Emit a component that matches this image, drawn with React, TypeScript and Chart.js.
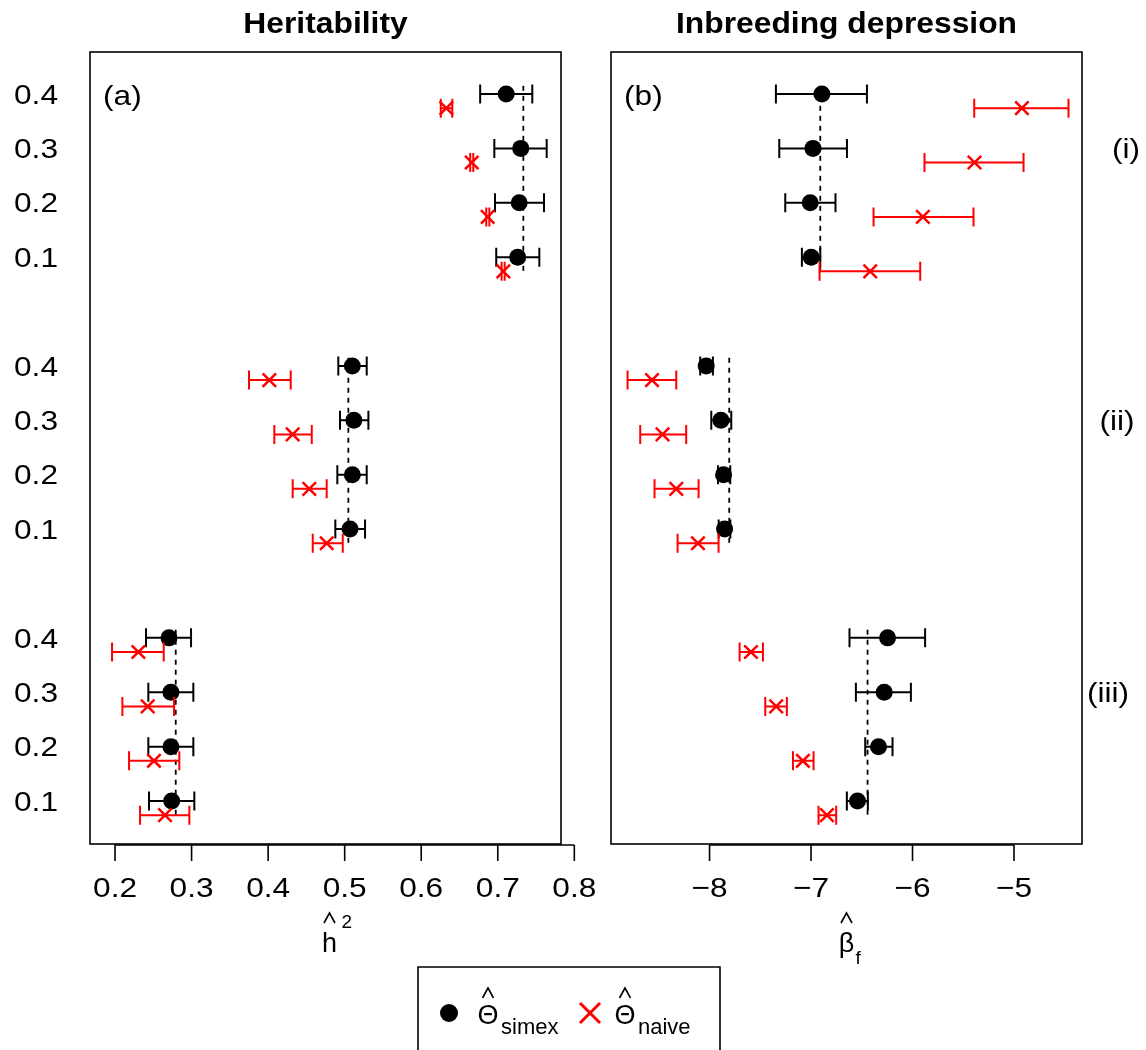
import React, { useEffect, useRef } from "react";
import { Chart, registerables } from "chart.js";
Chart.register(...registerables);

// ---------- data ----------
const levelLabels = ["0.4", "0.3", "0.2", "0.1"];
const groupLabels = ["(i)", "(ii)", "(iii)"];

// Heritability (panel a)
const h2SimexMean = [0.711, 0.730, 0.728, 0.726, 0.510, 0.512, 0.510, 0.507, 0.2705, 0.273, 0.273, 0.274];
const h2SimexLo = [0.677, 0.6955, 0.6964, 0.698, 0.4917, 0.4939, 0.4904, 0.4878, 0.2405, 0.2435, 0.2435, 0.2444];
const h2SimexHi = [0.7451, 0.7639, 0.7604, 0.7543, 0.5288, 0.531, 0.5288, 0.5266, 0.2993, 0.3023, 0.3023, 0.3036];
const h2NaiveMean = [0.6328, 0.666, 0.6868, 0.7073, 0.4016, 0.4321, 0.4538, 0.4765, 0.2305, 0.2427, 0.2509, 0.2653];
const h2NaiveLo = [0.6255, 0.664, 0.685, 0.705, 0.375, 0.4081, 0.4321, 0.4583, 0.1961, 0.2096, 0.2183, 0.2327];
const h2NaiveHi = [0.6406, 0.668, 0.689, 0.709, 0.4295, 0.457, 0.4765, 0.4975, 0.2636, 0.2771, 0.284, 0.2971];
const h2True = [0.7334, 0.5048, 0.2793];
const h2Ticks = [0.2, 0.3, 0.4, 0.5, 0.6, 0.7, 0.8];

// Inbreeding depression (panel b)
const bfSimexMean = [-6.893, -6.981, -7.008, -6.998, -8.033, -7.888, -7.862, -7.852, -6.246, -6.279, -6.335, -6.542];
const bfSimexLo = [-7.346, -7.313, -7.254, -7.09, -8.092, -7.983, -7.917, -7.91, -6.621, -6.558, -6.466, -6.647];
const bfSimexHi = [-6.449, -6.646, -6.759, -6.909, -7.967, -7.786, -7.796, -7.795, -5.876, -6.016, -6.197, -6.44];
const bfNaiveMean = [-4.922, -5.389, -5.898, -6.417, -8.567, -8.463, -8.328, -8.114, -7.592, -7.343, -7.08, -6.843];
const bfNaiveLo = [-5.392, -5.882, -6.384, -6.916, -8.808, -8.683, -8.542, -8.315, -7.704, -7.451, -7.178, -6.926];
const bfNaiveHi = [-4.463, -4.906, -5.399, -5.924, -8.328, -8.23, -8.108, -7.911, -7.474, -7.238, -6.975, -6.752];
const bfTrue = [-6.909, -7.806, -6.443];
const bfTicks = [-8, -7, -6, -5];

// ---------- helpers ----------
const FONT = '"Liberation Sans", Arial, Helvetica, sans-serif';
const font = (size: number, bold = false) => `${bold ? "bold " : ""}${size}px ${FONT}`;
const W = 1146;
const H = 1050;
const NAIVE_OFFSET = 0.26;
const SX = 1.13; // horizontal stretch of regular text
const rowPos = (i: number) => Math.floor(i / 4) * 5 + (i % 4);

function textS(ctx: CanvasRenderingContext2D, s: string, x: number, y: number, sx = SX) {
  ctx.save();
  ctx.translate(x, y);
  ctx.scale(sx, 1);
  ctx.fillText(s, 0, 0);
  ctx.restore();
}

function hat(ctx: CanvasRenderingContext2D, cx: number, top: number, half = 5.5, h = 10) {
  ctx.save();
  ctx.strokeStyle = "#000";
  ctx.lineWidth = 1.6;
  ctx.beginPath();
  ctx.moveTo(cx - half, top + h);
  ctx.lineTo(cx, top);
  ctx.lineTo(cx + half, top + h);
  ctx.stroke();
  ctx.restore();
}

type PanelCfg = {
  simexMean: number[]; simexLo: number[]; simexHi: number[];
  naiveMean: number[]; naiveLo: number[]; naiveHi: number[];
  truth: number[]; ticks: number[]; tickFmt: (v: number) => string;
  xmin: number; xmax: number; padLeft: number; padRight: number;
  title: string; letter: string; side: "a" | "b";
};

function makeChart(canvas: HTMLCanvasElement, cfg: PanelCfg) {
  const simexPts = cfg.simexMean.map((v, i) => ({ x: v, y: rowPos(i) }));
  const naivePts = cfg.naiveMean.map((v, i) => ({ x: v, y: rowPos(i) + NAIVE_OFFSET }));
  const truthSets = cfg.truth.map((v, g) => ({
    type: "line" as const,
    data: [{ x: v, y: g * 5 - 0.15 }, { x: v, y: g * 5 + 3 + 0.27 }],
    borderColor: "#000",
    borderWidth: 1.8,
    borderDash: [5, 5],
    pointRadius: 0,
    showLine: true,
    fill: false,
  }));

  const drawBars = (chart: any, lo: number[], hi: number[], off: number, color: string) => {
    const ctx = chart.ctx as CanvasRenderingContext2D;
    const xs = chart.scales.x, ys = chart.scales.y;
    ctx.save();
    ctx.strokeStyle = color;
    ctx.lineWidth = 2;
    ctx.beginPath();
    lo.forEach((l, i) => {
      const y = ys.getPixelForValue(rowPos(i) + off);
      const x1 = xs.getPixelForValue(l);
      const x2 = xs.getPixelForValue(hi[i]);
      ctx.moveTo(x1, y); ctx.lineTo(x2, y);
      ctx.moveTo(x1, y - 9.5); ctx.lineTo(x1, y + 9.5);
      ctx.moveTo(x2, y - 9.5); ctx.lineTo(x2, y + 9.5);
    });
    ctx.stroke();
    ctx.restore();
  };

  const plugin = {
    id: "panelDeco" + cfg.side,
    beforeDatasetDraw(chart: any, args: any) {
      if (args.index === 1) drawBars(chart, cfg.simexLo, cfg.simexHi, 0, "#000");
      if (args.index === 0) drawBars(chart, cfg.naiveLo, cfg.naiveHi, NAIVE_OFFSET, "#FF0000");
    },
    afterDraw(chart: any) {
      const ctx = chart.ctx as CanvasRenderingContext2D;
      const a = chart.chartArea;
      const xs = chart.scales.x, ys = chart.scales.y;
      ctx.save();
      ctx.strokeStyle = "#000";
      ctx.fillStyle = "#000";
      ctx.lineWidth = 1.6;
      ctx.strokeRect(a.left, a.top, a.right - a.left, a.bottom - a.top);
      // x axis
      const t0 = xs.getPixelForValue(cfg.ticks[0]);
      const t1 = xs.getPixelForValue(cfg.ticks[cfg.ticks.length - 1]);
      const ay = a.bottom + 1;
      ctx.beginPath();
      ctx.moveTo(t0, ay); ctx.lineTo(t1, ay);
      cfg.ticks.forEach((t) => {
        const x = xs.getPixelForValue(t);
        ctx.moveTo(x, ay); ctx.lineTo(x, ay + 16);
      });
      ctx.stroke();
      ctx.font = font(28);
      ctx.textAlign = "center";
      ctx.textBaseline = "middle";
      cfg.ticks.forEach((t) => {
        textS(ctx, cfg.tickFmt(t), xs.getPixelForValue(t), 889);
      });
      // title
      ctx.font = font(30, true);
      ctx.textBaseline = "middle";
      textS(ctx, cfg.title, (a.left + a.right) / 2, 25, 1.06);
      // panel letter
      ctx.font = font(28);
      ctx.textAlign = "left";
      textS(ctx, cfg.letter, a.left + 13, ys.getPixelForValue(0) + 3);
      if (cfg.side === "a") {
        ctx.textAlign = "center";
        for (let g = 0; g < 3; g++) {
          levelLabels.forEach((lab, r) => {
            textS(ctx, lab, 36, ys.getPixelForValue(g * 5 + r) + 2);
          });
        }
        // x label: h-hat squared
        const cx = (a.left + a.right) / 2 + 4;
        ctx.textBaseline = "alphabetic";
        ctx.font = font(27);
        ctx.fillText("h", cx, 952);
        hat(ctx, cx, 913);
        ctx.font = font(19);
        ctx.textAlign = "left";
        ctx.fillText("2", cx + 12, 928);
      } else {
        const gx = [1126, 1117, 1108];
        ctx.textAlign = "center";
        groupLabels.forEach((lab, g) => {
          textS(ctx, lab, gx[g], ys.getPixelForValue(g * 5 + 1) + 2);
        });
        // x label: beta-hat sub f
        const cx = (a.left + a.right) / 2;
        ctx.textBaseline = "alphabetic";
        ctx.font = font(27);
        ctx.fillText("\u03B2", cx, 952);
        hat(ctx, cx, 913);
        ctx.font = font(19);
        ctx.textAlign = "left";
        ctx.fillText("f", cx + 9, 964);
        // legend
        ctx.lineWidth = 1.6;
        ctx.beginPath();
        ctx.moveTo(418, H + 2); ctx.lineTo(418, 967); ctx.lineTo(720, 967); ctx.lineTo(720, H + 2);
        ctx.stroke();
        ctx.beginPath();
        ctx.arc(449, 1013, 9, 0, Math.PI * 2);
        ctx.fill();
        ctx.font = font(27);
        ctx.textAlign = "center";
        ctx.fillText("\u0398", 488, 1024);
        hat(ctx, 488, 988);
        ctx.font = font(22);
        ctx.textAlign = "left";
        ctx.fillText("simex", 501, 1034);
        ctx.strokeStyle = "#FF0000";
        ctx.lineWidth = 3;
        ctx.beginPath();
        ctx.moveTo(580, 1003); ctx.lineTo(600, 1023);
        ctx.moveTo(600, 1003); ctx.lineTo(580, 1023);
        ctx.stroke();
        ctx.font = font(27);
        ctx.textAlign = "center";
        ctx.fillText("\u0398", 625, 1024);
        hat(ctx, 625, 988);
        ctx.font = font(22);
        ctx.textAlign = "left";
        ctx.fillText("naive", 638, 1034);
      }
      ctx.restore();
    },
  };

  return new Chart(canvas, {
    type: "scatter",
    data: {
      datasets: [
        {
          data: naivePts,
          pointStyle: "crossRot",
          pointRadius: 9.5,
          pointBorderWidth: 2.5,
          pointBorderColor: "#FF0000",
          pointBackgroundColor: "#FF0000",
          showLine: false,
        },
        {
          data: simexPts,
          pointStyle: "circle",
          pointRadius: 8.5,
          pointBorderWidth: 0,
          pointBackgroundColor: "#000",
          pointBorderColor: "#000",
          showLine: false,
        },
        ...truthSets,
      ] as any,
    },
    options: {
      responsive: false,
      animation: false,
      events: [],
      layout: { padding: { left: cfg.padLeft, right: cfg.padRight, top: 52, bottom: H - 844 } },
      plugins: { legend: { display: false }, tooltip: { enabled: false }, title: { display: false } },
      scales: {
        x: { type: "linear", min: cfg.xmin, max: cfg.xmax, display: false },
        y: { type: "linear", min: -0.772, max: 13.79, reverse: true, display: false },
      },
    } as any,
    plugins: [plugin],
  });
}

export default function App() {
  const aRef = useRef<HTMLCanvasElement>(null);
  const bRef = useRef<HTMLCanvasElement>(null);
  useEffect(() => {
    const ca = makeChart(aRef.current!, {
      simexMean: h2SimexMean, simexLo: h2SimexLo, simexHi: h2SimexHi,
      naiveMean: h2NaiveMean, naiveLo: h2NaiveLo, naiveHi: h2NaiveHi,
      truth: h2True, ticks: h2Ticks, tickFmt: (v) => v.toFixed(1),
      xmin: 0.1673, xmax: 0.7826, padLeft: 90, padRight: W - 561,
      title: "Heritability", letter: "(a)", side: "a",
    });
    const cb = makeChart(bRef.current!, {
      simexMean: bfSimexMean, simexLo: bfSimexLo, simexHi: bfSimexHi,
      naiveMean: bfNaiveMean, naiveLo: bfNaiveLo, naiveHi: bfNaiveHi,
      truth: bfTrue, ticks: bfTicks, tickFmt: (v) => "\u2212" + Math.abs(v).toString(),
      xmin: -8.971, xmax: -4.33, padLeft: 611, padRight: W - 1082,
      title: "Inbreeding depression", letter: "(b)", side: "b",
    });
    return () => { ca.destroy(); cb.destroy(); };
  }, []);
  const st: React.CSSProperties = { position: "absolute", left: 0, top: 0 };
  return (
    <div style={{ position: "absolute", left: 0, top: 0, width: W, height: H, background: "#fff", overflow: "hidden" }}>
      <canvas ref={aRef} width={W} height={H} style={st} />
      <canvas ref={bRef} width={W} height={H} style={st} />
    </div>
  );
}
